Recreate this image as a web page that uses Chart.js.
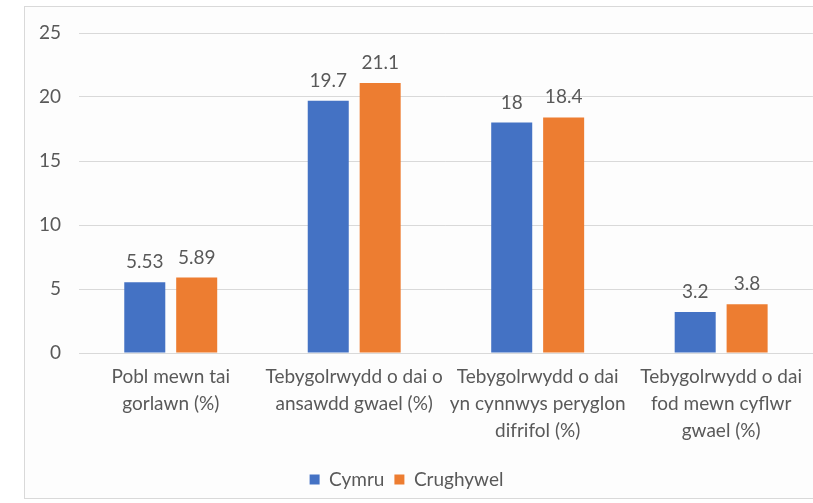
<!DOCTYPE html>
<html>
<head>
<meta charset="utf-8">
<script src="https://cdn.jsdelivr.net/npm/chart.js@4"></script>
<style>
  html, body { margin: 0; padding: 0; background: #ffffff; }
  #wrap { position: relative; width: 813px; height: 503px; overflow: hidden; }
  #frame {
    position: absolute; left: 24px; top: 6px; width: 820px; height: 493px;
    border: 1px solid #d9d9d9; background: #fdfdfd; box-sizing: border-box;
  }
  #chart { position: absolute; left: 0; top: 0; }
</style>
</head>
<body>
<div id="wrap">
  <div id="frame"></div>
  <canvas id="chart" width="813" height="503"></canvas>
</div>
<script>
// data
const categories = [
    ['Pobl mewn tai', 'gorlawn (%)'],
    ['Tebygolrwydd o dai o', 'ansawdd gwael (%)'],
    ['Tebygolrwydd o dai', 'yn cynnwys peryglon', 'difrifol (%)'],
    ['Tebygolrwydd o dai', 'fod mewn cyflwr', 'gwael (%)']
];
const cymru = [5.53, 19.7, 18, 3.2];
const crughywel = [5.89, 21.1, 18.4, 3.8];
const seriesNames = ['Cymru', 'Crughywel'];
const yTicks = [0, 5, 10, 15, 20, 25];

const textGrey = '#595959';
const fontFamily = 'Lato, "Open Sans", sans-serif';

// labels above bars
const valueLabels = {
    id: 'valueLabels',
    afterDatasetsDraw(chart) {
        const ctx = chart.ctx;
        ctx.save();
        ctx.fillStyle = textGrey;
        ctx.font = '19px ' + fontFamily;
        ctx.textAlign = 'center';
        ctx.textBaseline = 'alphabetic';
        chart.data.datasets.forEach((ds, i) => {
            chart.getDatasetMeta(i).data.forEach((bar, j) => {
                ctx.fillText(String(ds.data[j]), bar.x, bar.y - 14);
            });
        });
        ctx.restore();
    }
};

new Chart(document.getElementById('chart'), {
    type: 'bar',
    data: {
        labels: categories,
        datasets: [
            { label: seriesNames[0], data: cymru, backgroundColor: '#4472C4' },
            { label: seriesNames[1], data: crughywel, backgroundColor: '#ED7D31' }
        ]
    },
    options: {
        responsive: false,
        animation: false,
        devicePixelRatio: 1,
        layout: { padding: { top: 33, right: 0, bottom: 4, left: 0 } },
        datasets: {
            bar: { categoryPercentage: 0.566, barPercentage: 0.79 }
        },
        plugins: {
            legend: {
                position: 'bottom',
                labels: {
                    boxWidth: 10, boxHeight: 10, padding: 10,
                    color: textGrey,
                    font: { family: fontFamily, size: 19 }
                }
            },
            tooltip: { enabled: false }
        },
        scales: {
            y: {
                min: 0, max: 25,
                afterFit: (scale) => { scale.width = 79; },
                afterBuildTicks: (scale) => { scale.ticks = yTicks.map(v => ({ value: v })); },
                ticks: { color: textGrey, padding: 18, font: { family: fontFamily, size: 19 } },
                grid: { color: '#d9d9d9', drawTicks: false },
                border: { display: false }
            },
            x: {
                afterFit: (scale) => { scale.height = 107; },
                ticks: { color: textGrey, padding: 11, maxRotation: 0, autoSkip: false,
                         font: { family: fontFamily, size: 19, lineHeight: 1.4 } },
                grid: { display: false, drawTicks: false },
                border: { color: '#d9d9d9' }
            }
        }
    },
    plugins: [valueLabels]
});
</script>
</body>
</html>
